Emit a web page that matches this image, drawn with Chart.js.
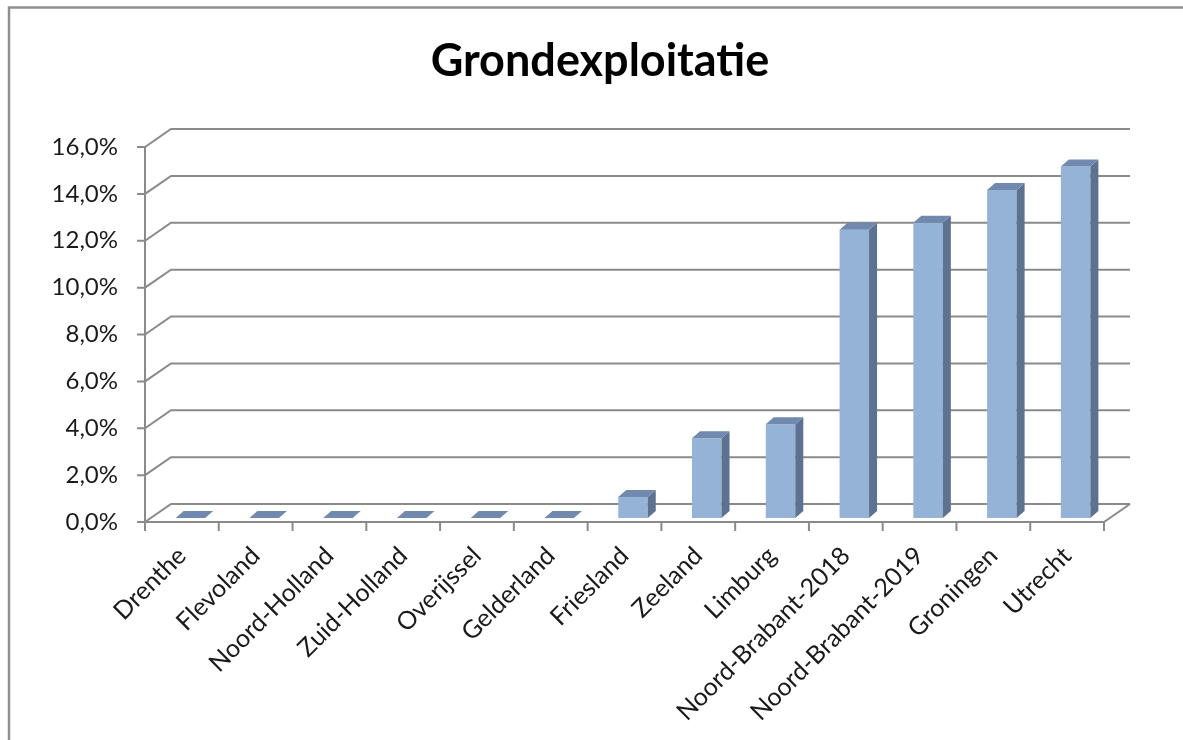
<!DOCTYPE html>
<html>
<head>
<meta charset="utf-8">
<script src="https://cdn.jsdelivr.net/npm/chart.js@4"></script>
<style>
  html, body { margin: 0; padding: 0; background: #fff; }
  #wrap { width: 1183px; height: 740px; }
</style>
</head>
<body>
<div id="wrap"><canvas id="chart" width="1183" height="740"></canvas></div>
<script>
// chart data (percent)
const categories = ['Drenthe', 'Flevoland', 'Noord-Holland', 'Zuid-Holland', 'Overijssel',
    'Gelderland', 'Friesland', 'Zeeland', 'Limburg', 'Noord-Brabant-2018',
    'Noord-Brabant-2019', 'Groningen', 'Utrecht'];
const values = [0, 0, 0, 0, 0, 0, 0.9, 3.4, 4.0, 12.3, 12.6, 14.0, 15.0];
const yTicks = [0, 2, 4, 6, 8, 10, 12, 14, 16];
const chartTitle = 'Grondexploitatie';

// 3D look
const WALL_DX = 26, WALL_DY = -18;   // depth of back wall
const BAR_DX = 8.5, BAR_DY = -4;     // bar front face sits a bit into the floor
const SIDE_DX = 8, SIDE_DY = -7;     // bar depth
const lineColor = '#8a8a8a';
const faceFront = '#95b3d7', faceSide = '#5d7190', faceTop = '#7189ae';

const fontFamily = 'Lato, "Open Sans", sans-serif';

const depthPlugin = {
    id: 'depth',
    beforeDraw(chart) {
        const ctx = chart.ctx;
        ctx.save();
        ctx.strokeStyle = '#8f8f8f';
        ctx.lineWidth = 2.5;
        ctx.beginPath();
        ctx.moveTo(9, 740);
        ctx.lineTo(9, 7.5);
        ctx.lineTo(1183, 7.5);
        ctx.stroke();

        ctx.fillStyle = '#000';
        ctx.font = 'bold 45px ' + fontFamily;
        ctx.textAlign = 'center';
        ctx.textBaseline = 'middle';
        ctx.fillText(chartTitle, 600, 61);
        ctx.restore();
    },
    beforeDatasetsDraw(chart) {
        const ctx = chart.ctx;
        const { left, right, top, bottom } = chart.chartArea;
        const ys = chart.scales.y;
        ctx.save();
        ctx.strokeStyle = lineColor;
        ctx.lineWidth = 2;
        ctx.lineCap = 'butt';

        // back wall gridlines with diagonals and tick marks
        yTicks.forEach(v => {
            const y = ys.getPixelForValue(v);
            ctx.beginPath();
            ctx.moveTo(left - 8, y);
            ctx.lineTo(left, y);
            ctx.lineTo(left + WALL_DX, y + WALL_DY);
            ctx.lineTo(right + WALL_DX, y + WALL_DY);
            ctx.stroke();
        });

        // vertical axis
        ctx.beginPath();
        ctx.moveTo(left, top);
        ctx.lineTo(left, bottom);
        ctx.stroke();

        // floor front edge + right diagonal
        ctx.beginPath();
        ctx.moveTo(left, bottom);
        ctx.lineTo(right, bottom);
        ctx.lineTo(right + WALL_DX, bottom + WALL_DY);
        ctx.stroke();

        // category tick marks
        const catW = (right - left) / categories.length;
        for (let i = 0; i <= categories.length; i++) {
            const x = left + i * catW;
            ctx.beginPath();
            ctx.moveTo(x, bottom);
            ctx.lineTo(x, bottom + 9);
            ctx.stroke();
        }
        ctx.restore();

        ctx.save();
        ctx.translate(BAR_DX, BAR_DY);
    },
    afterDatasetsDraw(chart) {
        const ctx = chart.ctx;
        const meta = chart.getDatasetMeta(0);
        meta.data.forEach(bar => {
            const { x, y, base, width } = bar.getProps(['x', 'y', 'base', 'width'], true);
            const l = x - width / 2, r = x + width / 2;
            // side face
            ctx.fillStyle = faceSide;
            ctx.beginPath();
            ctx.moveTo(r, y);
            ctx.lineTo(r + SIDE_DX, y + SIDE_DY);
            ctx.lineTo(r + SIDE_DX, base + SIDE_DY);
            ctx.lineTo(r, base);
            ctx.closePath();
            ctx.fill();
            // top face
            ctx.fillStyle = faceTop;
            ctx.beginPath();
            ctx.moveTo(l, y);
            ctx.lineTo(l + SIDE_DX, y + SIDE_DY);
            ctx.lineTo(r + SIDE_DX, y + SIDE_DY);
            ctx.lineTo(r, y);
            ctx.closePath();
            ctx.fill();
        });
        ctx.restore();
    }
};

const ctx = document.getElementById('chart').getContext('2d');
const chart = new Chart(ctx, {
    type: 'bar',
    data: {
        labels: categories,
        datasets: [{
            data: values,
            backgroundColor: faceFront,
            borderWidth: 0,
            categoryPercentage: 1,
            barPercentage: 0.4,
            clip: false
        }]
    },
    options: {
        responsive: false,
        animation: false,
        events: [],
        layout: { padding: { top: 147, right: 79, left: 0, bottom: 0 } },
        plugins: {
            legend: { display: false },
            title: { display: false },
            tooltip: { enabled: false }
        },
        scales: {
            x: {
                grid: { display: false, drawTicks: false },
                border: { display: false },
                ticks: {
                    autoSkip: false,
                    minRotation: 45,
                    maxRotation: 45,
                    padding: 19,
                    color: '#1a1a1a',
                    font: { family: fontFamily, size: 25 }
                },
                afterFit(scale) { scale.height = 218; }
            },
            y: {
                min: 0,
                max: 16,
                grid: { display: false, drawTicks: false },
                border: { display: false },
                ticks: {
                    stepSize: 2,
                    padding: 27,
                    color: '#1a1a1a',
                    font: { family: fontFamily, size: 24 },
                    callback: v => v.toFixed(1).replace('.', ',') + '%'
                },
                afterFit(scale) { scale.width = 145; }
            }
        }
    },
    plugins: [depthPlugin]
});
</script>
</body>
</html>
